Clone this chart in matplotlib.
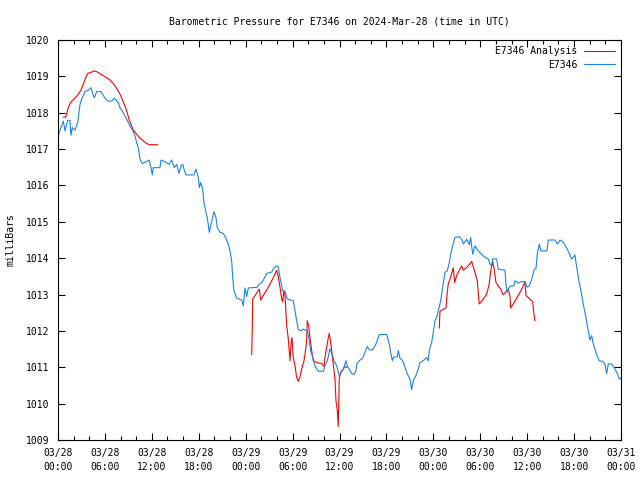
import numpy as np
import pandas as pd
import matplotlib
matplotlib.use("Agg")
import matplotlib.pyplot as plt
from matplotlib.ticker import MultipleLocator

START = pd.Timestamp("2024-03-28 00:00")

# hours since 03/28 00:00 UTC, pressure in mb
obs_hours = [
    0.04, 0.68, 0.90, 1.24, 1.53, 1.66, 1.83, 2.17, 2.52, 2.81, 3.03, 3.45, 3.87, 4.22,
    4.39, 4.64, 4.95, 5.50, 6.01, 6.43, 6.87, 7.20, 7.71, 7.93, 8.35, 8.79, 9.21, 9.63,
    9.85, 10.06, 10.27, 10.49, 10.78, 11.34, 11.64, 11.89, 12.06, 12.19, 13.04, 13.17,
    13.59, 14.19, 14.54, 14.87, 15.18, 15.47, 15.73, 15.95, 16.11, 16.37, 17.39, 17.65,
    17.94, 18.07, 18.25, 18.50, 18.67, 18.93, 19.09, 19.35, 19.53, 19.78, 19.95, 20.20,
    20.37, 20.72, 21.14, 21.48, 21.78, 21.99, 22.21, 22.34, 22.51, 22.85, 23.49, 23.70,
    23.91, 24.13, 24.34, 25.45, 25.74, 26.09, 26.69, 27.33, 27.62, 27.94, 28.17, 28.39,
    28.73, 29.03, 29.32, 30.09, 30.31, 30.52, 30.73, 31.04, 31.37, 31.88, 32.14, 32.31,
    32.57, 32.86, 33.29, 33.93, 34.14, 34.44, 34.78, 35.00, 35.29, 35.64, 35.97, 36.15,
    36.48, 36.83, 36.99, 37.56, 37.85, 38.11, 38.20, 38.53, 38.96, 39.26, 39.55, 39.81,
    40.24, 40.66, 41.09, 42.03, 42.37, 42.54, 42.75, 42.88, 43.39, 43.52, 43.73, 44.08,
    44.37, 44.67, 45.01, 45.23, 45.43, 45.78, 46.07, 46.29, 46.71, 47.15, 47.35, 47.48,
    47.79, 47.99, 48.21, 48.43, 48.63, 48.94, 49.19, 49.49, 49.78, 50.04, 50.22, 50.47,
    50.77, 51.32, 51.62, 51.83, 52.26, 52.60, 52.77, 53.03, 53.32, 53.75, 54.18, 54.60,
    55.03, 55.24, 55.46, 55.59, 56.10, 56.30, 57.16, 57.29, 57.46, 57.71, 57.89, 58.31,
    58.44, 58.86, 59.30, 59.72, 60.01, 60.27, 60.58, 60.87, 61.13, 61.29, 61.55, 61.76,
    62.53, 62.70, 63.55, 63.85, 64.19, 64.54, 64.83, 65.13, 65.47, 65.69, 65.98, 66.11,
    66.24, 66.41, 66.66, 66.97, 67.17, 67.52, 67.81, 68.03, 68.25, 68.45, 68.67, 68.89,
    69.22, 69.65, 69.95, 70.17, 70.37, 70.81, 71.23, 71.52, 71.78, 72.0,
]
obs_mb = [
    1017.38, 1017.77, 1017.50, 1017.79, 1017.79, 1017.38, 1017.59, 1017.52, 1017.73, 1018.23,
    1018.37, 1018.58, 1018.62, 1018.69, 1018.55, 1018.41, 1018.58, 1018.58, 1018.40, 1018.32,
    1018.32, 1018.40, 1018.28, 1018.14, 1018.00, 1017.82, 1017.64, 1017.48, 1017.36, 1017.18,
    1017.04, 1016.72, 1016.60, 1016.66, 1016.70, 1016.49, 1016.29, 1016.49, 1016.49, 1016.70,
    1016.66, 1016.58, 1016.70, 1016.49, 1016.58, 1016.33, 1016.54, 1016.58, 1016.45, 1016.29,
    1016.29, 1016.45, 1016.22, 1015.94, 1016.08, 1015.90, 1015.53, 1015.25, 1015.12, 1014.71,
    1014.89, 1015.12, 1015.28, 1015.12, 1014.84, 1014.71, 1014.68, 1014.55, 1014.39, 1014.20,
    1013.93, 1013.47, 1013.10, 1012.90, 1012.85, 1012.69, 1013.18, 1012.95, 1013.18, 1013.20,
    1013.29, 1013.33, 1013.58, 1013.62, 1013.73, 1013.79, 1013.76, 1013.47, 1013.10, 1013.09,
    1012.88, 1012.83, 1012.55, 1012.28, 1012.05, 1012.00, 1012.05, 1012.00, 1011.75, 1011.46,
    1011.27, 1011.04, 1010.89, 1010.89, 1011.04, 1011.18, 1011.50, 1011.41, 1011.18, 1011.04,
    1010.77, 1010.83, 1010.95, 1011.18, 1011.04, 1010.83, 1010.80, 1010.90, 1011.09, 1011.18,
    1011.25, 1011.41, 1011.57, 1011.48, 1011.48, 1011.64, 1011.90, 1011.90, 1011.64, 1011.41,
    1011.18, 1011.27, 1011.29, 1011.46, 1011.25, 1011.18, 1011.00, 1010.82, 1010.68, 1010.38,
    1010.63, 1010.77, 1010.95, 1011.13, 1011.18, 1011.27, 1011.18, 1011.46, 1011.68, 1011.96,
    1012.28, 1012.37, 1012.55, 1012.83, 1013.20, 1013.61, 1013.65, 1013.88, 1014.11, 1014.34,
    1014.57, 1014.59, 1014.52, 1014.39, 1014.52, 1014.37, 1014.57, 1014.11, 1014.34, 1014.20,
    1014.11, 1014.02, 1013.98, 1013.84, 1013.79, 1013.98, 1013.98, 1013.70, 1013.67, 1013.29,
    1013.06, 1013.20, 1013.24, 1013.24, 1013.38, 1013.31, 1013.36, 1013.34, 1013.20, 1013.24,
    1013.42, 1013.67, 1013.72, 1014.11, 1014.39, 1014.20, 1014.20, 1014.50, 1014.50, 1014.39,
    1014.50, 1014.46, 1014.37, 1014.25, 1014.09, 1013.98, 1014.04, 1014.09, 1013.88, 1013.65,
    1013.33, 1013.01, 1012.74, 1012.37, 1012.00, 1011.75, 1011.87, 1011.64, 1011.50, 1011.35,
    1011.18, 1011.16, 1011.09, 1010.82, 1011.09, 1011.09, 1010.95, 1010.83, 1010.68, 1010.70,
]

# analysis comes in three separate runs
ana1_hours = [0.68, 0.98, 1.32, 1.66, 2.17, 2.60, 2.94, 3.24, 3.54, 3.80, 4.22, 4.64, 4.95,
              5.37, 5.79, 6.23, 6.65, 7.07, 7.51, 7.93, 8.35, 8.79, 9.08, 9.34, 9.63, 10.06,
              10.49, 10.91, 11.34, 11.76, 12.75]
ana1_mb = [1017.88, 1017.88, 1018.14, 1018.30, 1018.40, 1018.51, 1018.62, 1018.80, 1018.96,
           1019.08, 1019.11, 1019.15, 1019.13, 1019.07, 1019.02, 1018.96, 1018.90, 1018.80,
           1018.67, 1018.51, 1018.30, 1018.05, 1017.82, 1017.68, 1017.52, 1017.41, 1017.30,
           1017.23, 1017.15, 1017.12, 1017.12]

ana2_hours = [24.77, 24.85, 24.90, 25.19, 25.74, 25.92, 26.25, 26.89, 27.46, 27.97, 28.17,
              28.39, 28.61, 28.73, 28.90, 29.03, 29.25, 29.45, 29.67, 29.80, 29.92, 30.09,
              30.31, 30.52, 30.73, 30.95, 31.16, 31.46, 31.71, 31.80, 31.88, 32.06, 32.23,
              32.44, 32.65, 33.08, 33.72, 34.02, 34.14, 34.36, 34.57, 34.69, 34.87, 35.00,
              35.20, 35.42, 35.55, 35.72, 35.84, 35.97, 36.15, 36.48, 36.70, 36.92]
ana2_mb = [1011.35, 1012.10, 1012.88, 1012.97, 1013.15, 1012.85, 1012.97, 1013.20, 1013.43,
           1013.67, 1013.50, 1013.20, 1012.88, 1012.80, 1013.10, 1012.97, 1012.14, 1011.78,
           1011.18, 1011.64, 1011.82, 1011.27, 1011.04, 1010.72, 1010.61, 1010.74, 1010.95,
           1011.18, 1011.55, 1011.79, 1012.28, 1012.14, 1011.80, 1011.46, 1011.18, 1011.13,
           1011.10, 1011.02, 1011.27, 1011.55, 1011.82, 1011.93, 1011.68, 1011.46, 1011.09,
           1010.68, 1010.08, 1009.81, 1009.37, 1010.68, 1010.86, 1010.95, 1011.02, 1011.00]

ana3_hours = [48.76, 48.85, 49.07, 49.62, 49.78, 49.91, 50.13, 50.35, 50.55, 50.73, 50.98,
              51.32, 51.62, 51.83, 52.26, 52.69, 52.90, 53.20, 53.62, 53.87, 54.31, 54.82,
              55.15, 55.33, 55.59, 55.75, 56.01, 56.30, 56.61, 56.94, 57.29, 57.58, 57.80,
              57.89, 58.22, 58.66, 59.08, 59.50, 59.72, 59.85, 60.14, 60.45, 60.70, 60.87, 61.00]
ana3_mb = [1012.08, 1012.54, 1012.57, 1012.63, 1013.06, 1013.29, 1013.43, 1013.58, 1013.74,
           1013.33, 1013.52, 1013.67, 1013.79, 1013.67, 1013.74, 1013.85, 1013.91, 1013.70,
           1013.38, 1012.74, 1012.85, 1013.01, 1013.29, 1013.65, 1013.91, 1013.74, 1013.33,
           1013.24, 1013.15, 1012.99, 1013.08, 1013.15, 1012.97, 1012.63, 1012.74, 1012.90,
           1013.06, 1013.24, 1013.36, 1012.97, 1012.92, 1012.85, 1012.81, 1012.46, 1012.28]

ana_hours = ana1_hours + [np.nan] + ana2_hours + [np.nan] + ana3_hours
ana_mb = ana1_mb + [np.nan] + ana2_mb + [np.nan] + ana3_mb

plt.rcParams["font.family"] = ["DejaVu Sans Mono"]
plt.rcParams["font.size"] = 7

fig = plt.figure(figsize=(6.4, 4.8), dpi=100)
ax = fig.add_axes([58 / 640, 40 / 480, 563 / 640, 400 / 480])

ax.plot(ana_hours, ana_mb, color="#ff0000", lw=0.8, label="E7346 Analysis")
ax.plot(obs_hours, obs_mb, color="#1a82f0", lw=0.8, label="E7346")

ax.set_xlim(0, 72)
ax.set_ylim(1009, 1020)
ax.xaxis.set_minor_locator(MultipleLocator(2))
ax.yaxis.set_major_locator(MultipleLocator(1))
ticks = np.arange(0, 73, 6)
ax.set_xticks(ticks)
ax.set_xticklabels([(START + pd.Timedelta(hours=int(h))).strftime("%m/%d\n%H:%M") for h in ticks],
                   linespacing=1.5)
ax.set_yticklabels([f"{int(v)}" for v in ax.get_yticks()])
ax.tick_params(which="both", direction="in", top=True, right=True, width=0.8)
ax.tick_params(axis="both", pad=6)
ax.tick_params(which="major", length=5)
ax.tick_params(which="minor", length=3)
for s in ax.spines.values():
    s.set_linewidth(0.8)

ax.set_ylabel("milliBars", labelpad=8)
ax.set_title("Barometric Pressure for E7346 on 2024-Mar-28 (time in UTC)", fontsize=7, pad=11)

ax.legend(loc="upper right", frameon=False, markerfirst=False, handlelength=3.2,
          handletextpad=0.6, labelspacing=0.35, borderaxespad=0.25, fontsize=7)

fig.savefig("out.png", dpi=100)
